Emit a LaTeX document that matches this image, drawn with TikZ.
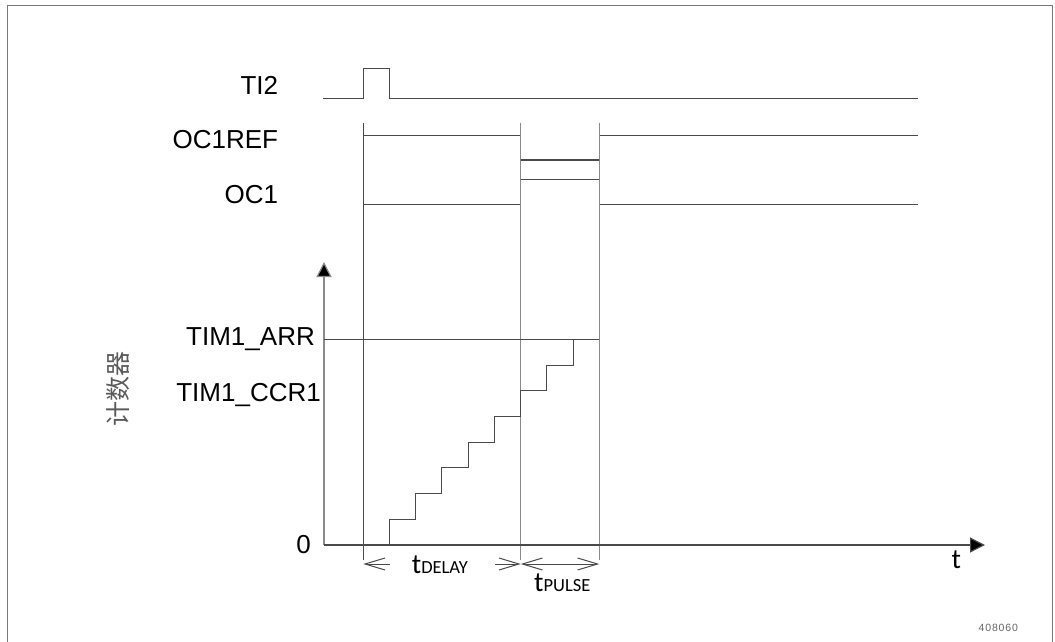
\documentclass[tikz,border=0pt]{standalone}
\usepackage{fontspec}
\setmainfont{Liberation Sans}
\newfontfamily\cjkfont{Noto Sans CJK SC}
\newfontfamily\calfont{Carlito}
\usetikzlibrary{arrows.meta}
\definecolor{linegray}{HTML}{4A4A4A}
\definecolor{lightline}{HTML}{8A8A8A}
\definecolor{framegray}{HTML}{7A7A7A}
\definecolor{cjkgray}{HTML}{5A5A5A}
\begin{document}
\begin{tikzpicture}[x=1pt,y=-1pt,
  sig/.style={draw=linegray, line width=1.1pt},
  guide/.style={draw=linegray, line width=1.1pt},
  guidelight/.style={draw=lightline, line width=1.4pt},
  lab/.style={font=\fontsize{26}{26}\selectfont, anchor=east, inner sep=0pt, text=black},
  barb/.tip={Straight Barb[length=20pt,width=12pt]},
  dim/.style={draw=linegray, line width=1pt, -barb},
  tlab/.style={anchor=base west, inner sep=0pt}
]
\useasboundingbox (0,0) rectangle (1055,642);
% frame
\draw[draw=framegray, line width=1.6pt] (7.5,642) -- (7.5,5.5) -- (1052.5,5.5) -- (1052.5,642);

% coordinates
\coordinate (O) at (324,545);
\coordinate (Ytip) at (324,262);
\coordinate (Xtip) at (985,545);
\coordinate (v1t) at (363.3,122.7); \coordinate (v1b) at (363.3,560);
\coordinate (v2t) at (520.7,122.7); \coordinate (v2b) at (520.7,560);
\coordinate (v3t) at (599.3,122.7); \coordinate (v3b) at (599.3,560);
\coordinate (d1) at (363.3,564); \coordinate (d1e) at (390,564);
\coordinate (d2) at (520.7,564); \coordinate (d2s) at (495,564);
\coordinate (d3) at (599.3,564);
\coordinate (arrL) at (324,339.3); \coordinate (arrR) at (599.3,339.3);

% labels
\node[lab] (ti2) at (278.3,85) {TI2};
\node[lab] (oc1ref) at (278.3,140) {OC1REF};
\node[lab] (oc1) at (278.3,195) {OC1};
\node[lab] (arr) at (315,339) {TIM1\_ARR};
\node[lab] (ccr) at (321,395) {TIM1\_CCR1};
\node[lab] (zero) at (311,545) {0};
\node[rotate=90, inner sep=0pt, text=cjkgray, font=\cjkfont\fontsize{25}{25}\selectfont] (cnt) at (118,389) {计数器};
\node[tlab] (tax) at (951.5,568) {\calfont\fontsize{28}{28}\selectfont t};
\node[tlab] (tdel) at (411.7,573) {\calfont\fontsize{28}{28}\selectfont t\fontsize{18.5}{18.5}\selectfont DELAY};
\node[tlab] (tpul) at (534,591.7) {\calfont\fontsize{28}{28}\selectfont t\fontsize{18.5}{18.5}\selectfont PULSE};
\node[anchor=west, inner sep=0pt, text=black!60, font=\addfontfeature{LetterSpace=8}\fontsize{10.5}{10.5}\selectfont] (code) at (978.5,628) {408060};

% signals
\draw[sig] (323.3,98.3) -- (363.3,98.3) -- (363.3,68.3) -- (389.3,68.3) -- (389.3,98.3) -- (918,98.3);
\draw[sig] (363.3,135.3) -- (520.7,135.3) -- (520.7,160) -- (599.3,160) -- (599.3,135.3) -- (918,135.3);
\draw[sig] (363.3,204.3) -- (520.7,204.3) -- (520.7,179.3) -- (599.3,179.3) -- (599.3,204.3) -- (918,204.3);

% vertical guides
\draw[guide] (v1t) -- (v1b);
\draw[guidelight] (v2t) -- (v2b);
\draw[guidelight] (v3t) -- (v3b);

% axes
\draw[draw=lightline, line width=1.2pt, -{Triangle[length=15pt,width=15pt,fill=black]}] (O) -- (Ytip);
\draw[draw=linegray, line width=1.2pt, -{Triangle[length=15pt,width=15pt,fill=black]}] (O) -- (Xtip);

% ARR level
\draw[guide] (arrL) -- (arrR);

% staircase
\draw[sig] (389.3,545) \foreach \i in {1,...,8} { -- ++(0,-25.7) -- ++(26.25,0) };

% dimension arrows
\draw[dim] (d1e) -- (d1);
\draw[dim] (d2s) -- (d2);
\draw[dim, barb-barb] (d2) -- (d3);
\end{tikzpicture}
\end{document}
